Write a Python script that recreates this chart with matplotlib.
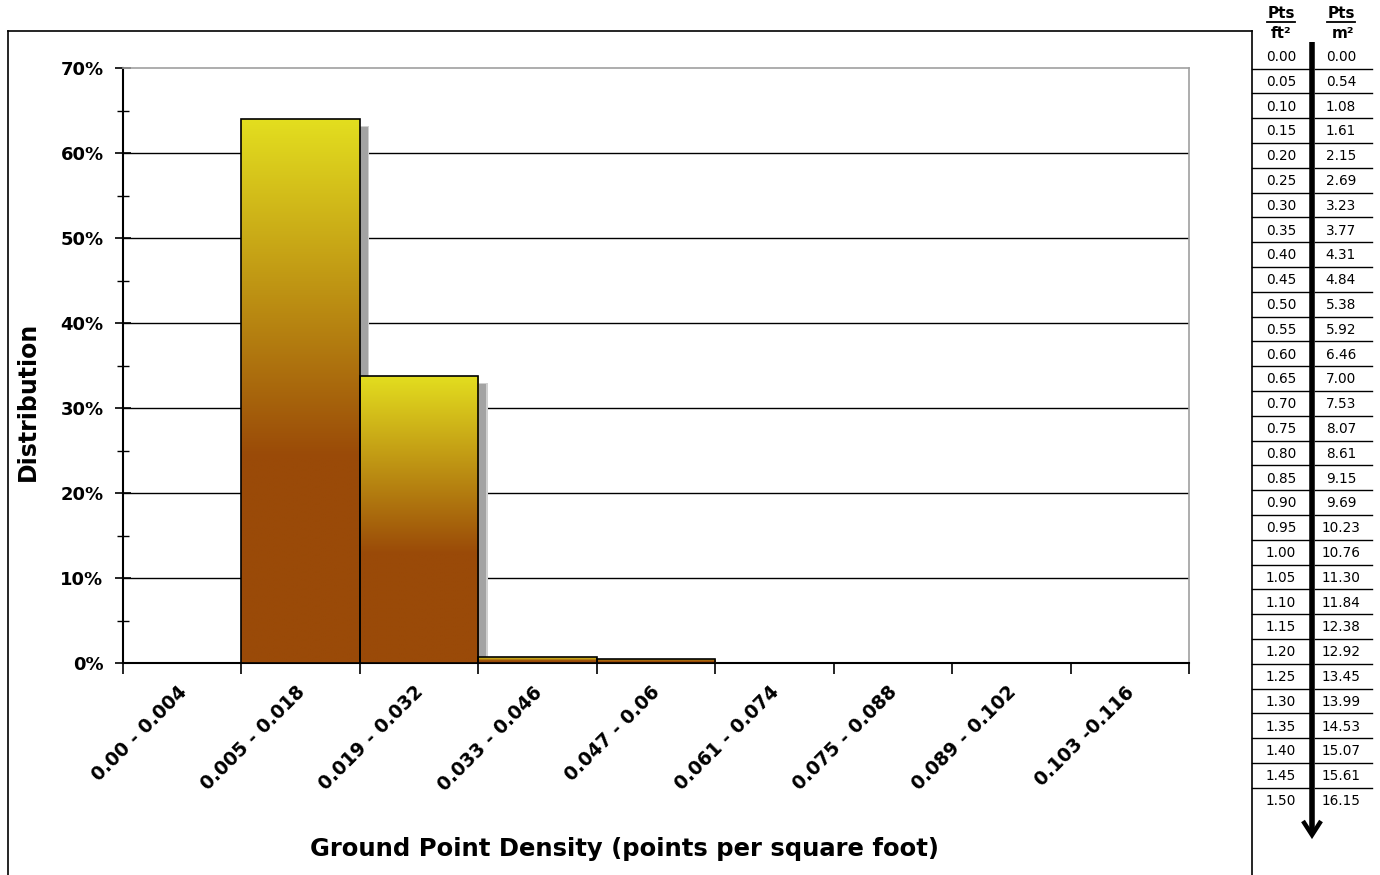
import matplotlib
matplotlib.use("Agg")
import matplotlib.pyplot as plt
import numpy as np
from matplotlib.patches import Rectangle
from matplotlib.colors import LinearSegmentedColormap
from matplotlib.lines import Line2D

categories = ["0.00 - 0.004", "0.005 - 0.018", "0.019 - 0.032", "0.033 - 0.046",
              "0.047 - 0.06", "0.061 - 0.074", "0.075 - 0.088", "0.089 - 0.102",
              "0.103 -0.116"]
values = [0.0, 64.0, 33.8, 0.7, 0.5, 0.0, 0.0, 0.0, 0.0]

pts_ft2 = ["0.00", "0.05", "0.10", "0.15", "0.20", "0.25", "0.30", "0.35", "0.40",
           "0.45", "0.50", "0.55", "0.60", "0.65", "0.70", "0.75", "0.80", "0.85",
           "0.90", "0.95", "1.00", "1.05", "1.10", "1.15", "1.20", "1.25", "1.30",
           "1.35", "1.40", "1.45", "1.50"]
pts_m2 = ["0.00", "0.54", "1.08", "1.61", "2.15", "2.69", "3.23", "3.77", "4.31",
          "4.84", "5.38", "5.92", "6.46", "7.00", "7.53", "8.07", "8.61", "9.15",
          "9.69", "10.23", "10.76", "11.30", "11.84", "12.38", "12.92", "13.45",
          "13.99", "14.53", "15.07", "15.61", "16.15"]

W, H = 1380, 875
fig = plt.figure(figsize=(W / 100, H / 100), dpi=100)
fig.patch.set_facecolor("white")

def fx(x):
    return x / W

def fy(y):
    return 1 - y / H

# outer frame of chart area
fig.add_artist(Line2D([fx(8), fx(8)], [fy(31), fy(880)], color="black", lw=1.2))
fig.add_artist(Line2D([fx(8), fx(1252)], [fy(31), fy(31)], color="black", lw=1.2))
fig.add_artist(Line2D([fx(1252), fx(1252)], [fy(31), fy(880)], color="black", lw=1.2))

ax = fig.add_axes([fx(123), fy(663), fx(1189) - fx(123), fy(68) - fy(663)])
ax.set_xlim(0, len(categories))
ax.set_ylim(0, 70)

# gridlines
for v in range(10, 70, 10):
    ax.axhline(v, color="black", lw=1.0, zorder=1)

cmap = LinearSegmentedColormap.from_list(
    "g", [(0.0, "#E3DE1F"), (0.62, "#9A4A08"), (1.0, "#9A4A08")])
grad = np.linspace(0, 1, 256).reshape(-1, 1)

dx = 8 / (1066 / len(categories))
dy = 8 / (595 / 70)
for i, v in enumerate(values):
    if v <= 0:
        continue
    # shadow
    ax.add_patch(Rectangle((i + dx - 0.01, 0), 1.02, max(v - dy + 0.1, 0),
                           facecolor="#D0D0D0", edgecolor="none", zorder=2))
    ax.add_patch(Rectangle((i + dx, 0), 1, max(v - dy, 0),
                           facecolor="#A3A3A3", edgecolor="none", zorder=2))
    im = ax.imshow(grad, cmap=cmap, aspect="auto", extent=[i, i + 1, 0, v],
                   origin="upper", zorder=3, interpolation="bilinear")
    r = Rectangle((i, 0), 1, v, facecolor="none", edgecolor="black", lw=1.2, zorder=4)
    ax.add_patch(r)
    im.set_clip_path(r)

ax.set_xlim(0, len(categories))
ax.set_ylim(0, 70)

for s in ["top", "right"]:
    ax.spines[s].set_color("#A0A0A0")
    ax.spines[s].set_linewidth(1.2)
for s in ["left", "bottom"]:
    ax.spines[s].set_color("black")
    ax.spines[s].set_linewidth(1.5)

ax.set_yticks(range(0, 71, 10))
ax.set_yticklabels([f"{v}%" for v in range(0, 71, 10)], fontsize=13, fontweight="bold")
ax.set_yticks(range(5, 70, 10), minor=True)
ax.tick_params(axis="y", which="major", direction="inout", length=12, width=1.2, pad=8)
ax.tick_params(axis="y", which="minor", direction="inout", length=9, width=1.0)

ax.set_xticks(range(0, len(categories) + 1))
ax.set_xticklabels([])
ax.tick_params(axis="x", which="major", direction="out", length=8, width=1.2)

for i, c in enumerate(categories):
    ax.annotate(c, xy=(i + 0.5, 0), xycoords="data", xytext=(1, -19),
                textcoords="offset points", rotation=45, ha="right", va="center",
                rotation_mode="anchor", fontsize=13.5, fontweight="bold")

fig.text(fx(624), fy(849), "Ground Point Density (points per square foot)",
         ha="center", va="center", fontsize=17.5, fontweight="bold")
fig.text(fx(28), fy(401), "Distribution", ha="center", va="center",
         rotation=90, fontsize=17, fontweight="bold")

# right-hand conversion table
cx1, cx2 = 1281, 1341
for x in (cx1, cx2):
    fig.text(fx(x), fy(14), "Pts", ha="center", va="center", fontsize=11,
             fontweight="bold")
    fig.add_artist(Line2D([fx(x - 14), fx(x + 14)], [fy(22), fy(22)], color="black", lw=1.3))
fig.text(fx(cx1), fy(33), "ft²", ha="center", va="center", fontsize=11, fontweight="bold")
fig.text(fx(cx2 + 2), fy(33), "m²", ha="center", va="center", fontsize=11, fontweight="bold")

y0, step = 57, 24.8
for k, (a, b) in enumerate(zip(pts_ft2, pts_m2)):
    yy = y0 + k * step
    fig.text(fx(cx1), fy(yy), a, ha="center", va="center", fontsize=9.8)
    fig.text(fx(cx2), fy(yy), b, ha="center", va="center", fontsize=9.8)
    if k < len(pts_ft2) - 1:
        ly = yy + 11.5
        fig.add_artist(Line2D([fx(1252), fx(1310)], [fy(ly), fy(ly)], color="black", lw=1.0))
        fig.add_artist(Line2D([fx(1315), fx(1372)], [fy(ly), fy(ly)], color="black", lw=1.0))

fig.add_artist(Line2D([fx(1312), fx(1312)], [fy(42), fy(834)], color="black", lw=4,
                      solid_capstyle="butt"))
fig.add_artist(Line2D([fx(1303), fx(1312), fx(1321)], [fy(821), fy(835), fy(821)],
                      color="black", lw=3.2, solid_joinstyle="miter", solid_capstyle="butt"))

fig.savefig("out.png", dpi=100, facecolor="white")
